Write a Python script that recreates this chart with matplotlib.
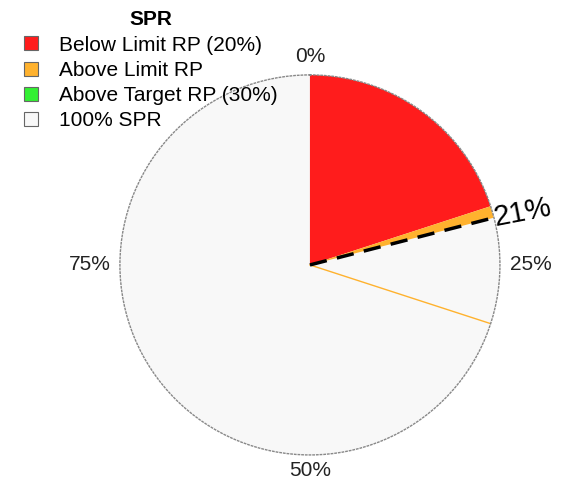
import numpy as np
import matplotlib.pyplot as plt
from matplotlib.patches import Patch

# data (percent of SPR)
labels = ['Below Limit RP (20%)', 'Above Limit RP', 'Above Target RP (30%)', '100% SPR']
colors = ['#FF1C1C', '#FFB22E', '#33F033', '#F8F8F8']
below_limit = 20
current = 21
above_target = 30
spr_full = 100
tick_vals = [0, 25, 50, 75]
tick_labels = ['0%', '25%', '50%', '75%']

plt.rcParams['font.family'] = ['Liberation Sans', 'DejaVu Sans']

fig = plt.figure(figsize=(5.63, 4.83), dpi=100)
ax = fig.add_axes([0.213, 0.058, 0.675, 0.787], projection='polar')
ax.set_theta_zero_location('N')
ax.set_theta_direction(-1)

def to_rad(p):
    return np.asarray(p) / 100.0 * 2 * np.pi

R = 1.0
# background full circle
ax.bar(0, R, width=to_rad(spr_full), align='edge', color=colors[3], linewidth=0)
# below limit wedge
ax.bar(0, R, width=to_rad(below_limit), align='edge', color=colors[0], linewidth=0)
# above limit wedge up to current level
ax.bar(to_rad(below_limit), R, width=to_rad(current - below_limit), align='edge',
       color=colors[1], linewidth=0)
# target line
ax.plot([to_rad(above_target)] * 2, [0, R], color=colors[1], lw=1)
# current level dashed line
ax.plot([to_rad(current)] * 2, [0, R], color='black', lw=2.5, ls=(0, (5, 3)))

ax.text(to_rad(current), R * 1.0, f'{current}%', fontsize=21, rotation=11,
        rotation_mode='anchor', ha='left', va='center')

ax.set_ylim(0, R)
ax.set_yticks([])
ax.set_xticks(to_rad(tick_vals))
ax.set_xticklabels([])
ax.tick_params(axis='x', length=0)
# percent labels around the rim
offsets = [(0, 13), (22, 0), (0, -11), (-22, 0)]
for v, lab, off in zip(tick_vals, tick_labels, offsets):
    ax.annotate(lab, xy=(to_rad(v), R), xytext=off, textcoords='offset points',
                ha='center', va='center', fontsize=15, color='#222222')
ax.grid(False)
ax.spines['polar'].set_linestyle(':')
ax.spines['polar'].set_color('#888888')
ax.spines['polar'].set_linewidth(1)

handles = [Patch(facecolor=c, edgecolor='#666666', linewidth=0.8) for c in colors]
leg = fig.legend(handles, labels, loc='upper left', bbox_to_anchor=(0.025, 1.0),
                 frameon=False, fontsize=15, title='SPR',
                 title_fontproperties={'weight': 'bold', 'size': 15},
                 handlelength=0.65, handleheight=0.65, labelspacing=0.3,
                 handletextpad=1.0, borderaxespad=0.1)

fig.savefig('out.png', dpi=100)
